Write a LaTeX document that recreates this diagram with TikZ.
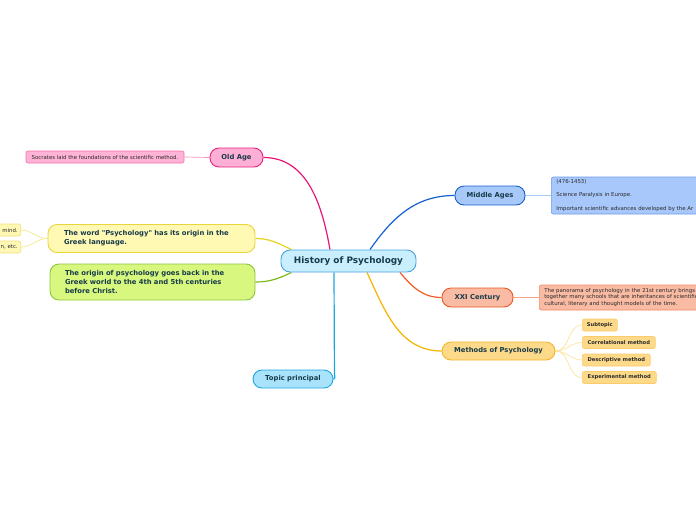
\documentclass[tikz,border=0pt]{standalone}
\usepackage{fontspec}
\setmainfont{DejaVu Sans}
\newfontfamily\mindfont{DejaVu Sans}
\usepackage{xcolor}
\usetikzlibrary{positioning, calc, backgrounds}

\definecolor{inkdark}{HTML}{173B4A}
\definecolor{inksmall}{HTML}{2A2A2A}
\definecolor{histfill}{HTML}{C9EEFD}  \definecolor{histline}{HTML}{4AA3DF}
\definecolor{oldfill}{HTML}{FFAFD6}   \definecolor{oldline}{HTML}{E5247B}
\definecolor{wordfill}{HTML}{FFF9B4}  \definecolor{wordline}{HTML}{EBD43C}
\definecolor{origfill}{HTML}{D7F77E}  \definecolor{origline}{HTML}{8CC63F}
\definecolor{tpfill}{HTML}{A9E3FB}    \definecolor{tpline}{HTML}{1DA7E0}
\definecolor{midfill}{HTML}{A6C9F9}   \definecolor{midline}{HTML}{1A5FCB}
\definecolor{xxifill}{HTML}{F9BBA3}   \definecolor{xxiline}{HTML}{E85A25}
\definecolor{methfill}{HTML}{FDD98A}  \definecolor{methline}{HTML}{F5B52A}
\definecolor{socrfill}{HTML}{FFB3D6}  \definecolor{socrline}{HTML}{F070A8}
\definecolor{midnfill}{HTML}{A8C8FC}  \definecolor{midnline}{HTML}{6F9BE6}
\definecolor{xxinline}{HTML}{F08A64}
\definecolor{wordnfill}{HTML}{FFF8B4} \definecolor{wordnline}{HTML}{F0E080}
\definecolor{subline}{HTML}{FCCB6C}
\definecolor{brold}{HTML}{E8157A}  \definecolor{brword}{HTML}{E6D220}
\definecolor{brorig}{HTML}{7DBA1C} \definecolor{brtp}{HTML}{1BA6E0}
\definecolor{brmid}{HTML}{1560D0}  \definecolor{brxxi}{HTML}{F05A22}
\definecolor{brmeth}{HTML}{F5B300}
\definecolor{twold}{HTML}{F78FBE}  \definecolor{twmid}{HTML}{A9C9F5}
\definecolor{twxxi}{HTML}{F6A58A}  \definecolor{twword}{HTML}{F3E78A}
\definecolor{twmeth}{HTML}{FCE29A}

\begin{document}
\begin{tikzpicture}[
  x=1pt, y=-1pt,
  topic/.style={draw, line width=0.9pt, rounded corners=9pt, inner sep=0pt,
    text=inkdark, font=\mindfont\bfseries\fontsize{6.8}{9}\selectfont, align=left},
  note/.style={draw, line width=0.6pt, rounded corners=2pt, inner sep=0pt,
    text=inksmall, font=\mindfont\fontsize{5.4}{6.6}\selectfont, align=left},
  subnote/.style={note, font=\mindfont\bfseries\fontsize{5.2}{6.5}\selectfont},
  branch/.style={line width=1.2pt},
  twig/.style={line width=0.7pt},
]
  \clip (0,0) rectangle (696,520);

  % central topic
  \node[topic, fill=histfill, draw=histline, minimum width=135pt, minimum height=22pt,
    font=\mindfont\bfseries\fontsize{8.9}{10}\selectfont] (hist) at (348.5,261) {History of Psychology};

  % main topics
  \node[topic, fill=oldfill, draw=oldline, minimum width=53pt, minimum height=19pt]
    (old) at (236.5,157.5) {Old Age};
  \node[topic, fill=wordfill, draw=wordline, inner xsep=16pt, text width=175pt, minimum height=28pt]
    (word) at (151.5,238.5) {The word "Psychology" has its origin in the\\Greek language.};
  \node[topic, fill=origfill, draw=origline, inner xsep=15pt, text width=175pt, minimum height=36pt]
    (orig) at (152.5,282) {The origin of psychology goes back in the\\Greek world to the 4th and 5th centuries\\before Christ.};
  \node[topic, fill=tpfill, draw=tpline, minimum width=80pt, minimum height=18pt]
    (tp) at (293,379) {Topic principal};
  \node[topic, fill=midfill, draw=midline, minimum width=70pt, minimum height=19pt]
    (mid) at (490,195.5) {Middle Ages};
  \node[topic, fill=xxifill, draw=xxiline, minimum width=71pt, minimum height=19pt]
    (xxi) at (477.5,297.5) {XXI Century};
  \node[topic, fill=methfill, draw=methline, minimum width=113pt, minimum height=18pt]
    (meth) at (498.5,351) {Methods of Psychology};

  % notes
  \node[note, fill=socrfill, draw=socrline, minimum width=158pt, minimum height=12pt]
    (socr) at (105,157) {Socrates laid the foundations of the scientific method.};
  \node[note, fill=midnfill, draw=midnline, anchor=west, text width=210pt,
    inner xsep=5pt, minimum height=37pt] (midnote) at (551,195.5)
    {(476-1453)\\[6.8pt]Science Paralysis in Europe.\\[6.8pt]Important scientific advances developed by the Ar};
  \node[note, fill=xxifill, draw=xxinline, anchor=west, text width=210pt,
    inner xsep=5pt, minimum height=25pt] (xxinote) at (539,297.5)
    {The panorama of psychology in the 21st century brings\\together many schools that are inheritances of scientific\\cultural, literary and thought models of the time.};
  \node[note, fill=wordnfill, draw=wordnline, anchor=east, minimum width=60pt,
    minimum height=12pt, align=right, inner xsep=3pt, text width=54pt] (wordA) at (21,230) {mind.};
  \node[note, fill=wordnfill, draw=wordnline, anchor=east, minimum width=60pt,
    minimum height=12pt, align=right, inner xsep=3pt, text width=54pt] (wordB) at (21,247) {n, etc.};

  % methods subtopics
  \foreach \nm/\y/\w/\lbl in {ms1/325/35/Subtopic, ms2/342.5/73/Correlational method,
      ms3/360/68/Descriptive method, ms4/377.5/74/Experimental method} {
    \node[subnote, fill=methfill, draw=subline, anchor=west, minimum width=\w pt,
      minimum height=12pt, inner xsep=4pt] (\nm) at (582,\y) {\lbl};
    \begin{scope}[on background layer]
      \draw[twig, draw=twmeth] (meth.east) to[out=0, in=180] (\nm.west);
    \end{scope}
  }

  \begin{scope}[on background layer]
  % branches from the centre
  \draw[branch, draw=brold] ([xshift=-18.5pt]hist.north) to[out=100, in=0] (old.east);
  \draw[branch, draw=brword] ([xshift=-57pt]hist.north) to[out=155, in=0] (word.east);
  \draw[branch, draw=brorig] ([xshift=-57pt]hist.south) to[out=205, in=0] (orig.east);
  \draw[branch, draw=brtp] ([xshift=-14.5pt]hist.south) -- ($(tp.east)+(1,-6)$)
    to[out=-90, in=0] (tp.east);
  \draw[branch, draw=brmid] ([xshift=21.5pt]hist.north) to[out=55, in=180] (mid.west);
  \draw[branch, draw=brxxi] ([xshift=51.5pt]hist.south) to[out=-50, in=180] (xxi.west);
  \draw[branch, draw=brmeth] ([xshift=18.5pt]hist.south) to[out=-65, in=180] (meth.west);

  % twigs to notes
  \draw[twig, draw=twold] (old.west) -- (socr.east);
  \draw[twig, draw=twmid] (mid.east) -- (midnote.west);
  \draw[twig, draw=twxxi] (xxi.east) -- (xxinote.west);
  \draw[twig, draw=twword] (word.west) to[out=180, in=0] (wordA.east);
  \draw[twig, draw=twword] (word.west) to[out=180, in=0] (wordB.east);
  \end{scope}
\end{tikzpicture}
\end{document}
